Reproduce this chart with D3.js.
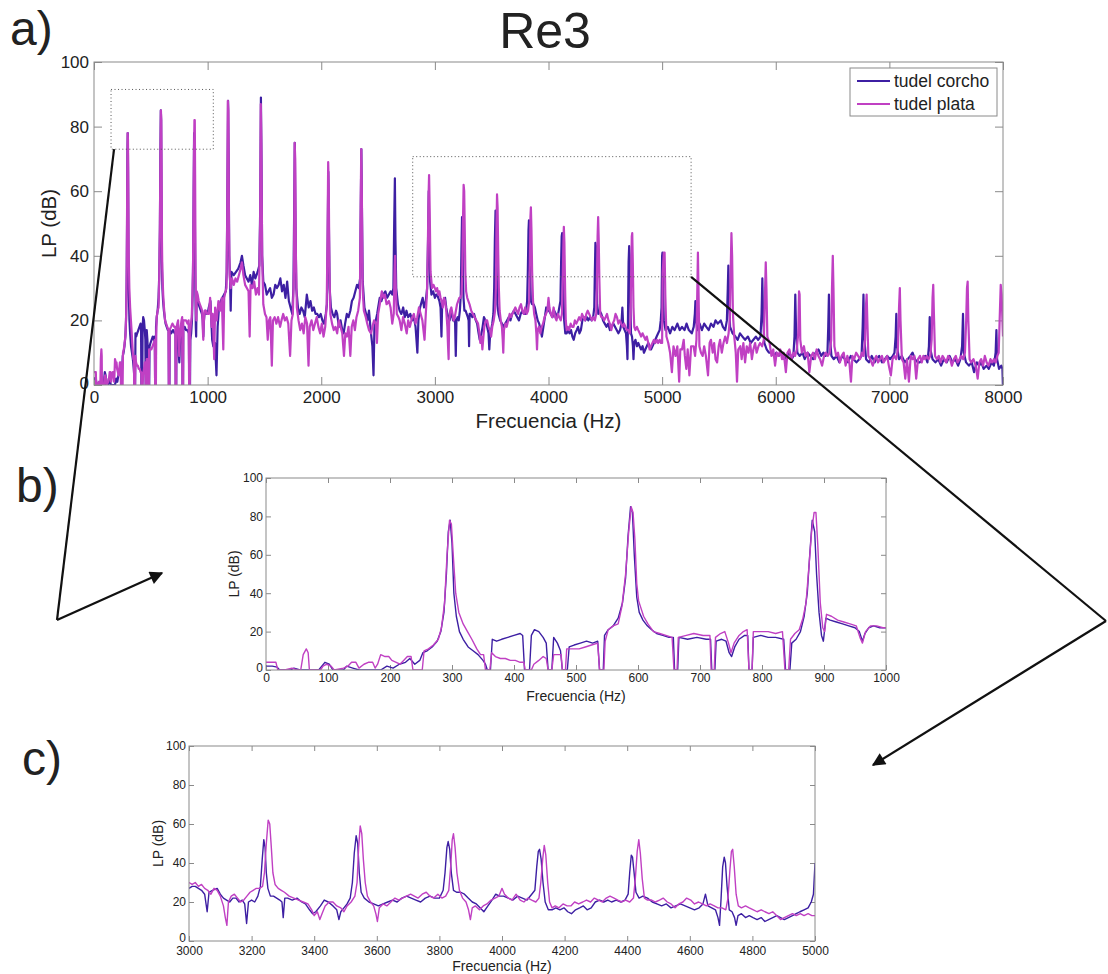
<!DOCTYPE html>
<html>
<head>
<meta charset="utf-8">
<script src="https://cdn.jsdelivr.net/npm/d3@7"></script>
<style>
  body { margin: 0; background: #fff; }
  svg { display: block; }
  text { font-family: "Liberation Sans", Arial, sans-serif; fill: #222; }
  .narrow text { font-family: "Liberation Sans Narrow", "Arial Narrow", "Liberation Sans", Arial, sans-serif; }
</style>
</head>
<body>
<div id="chart"></div>
<script>
// Spectrum values [Hz, dB], by frequency band
var corchoLow = [[0,2],[10,2],[18,1.5],[22,0],[40,0],[45,1],[55,0],[85,0],[95,4],[102,3],[108,0],[125,0],[130,2],[140,1],[150,0],[185,0],[195,2],[205,1],[215,3],[225,4],[232,6],[240,3],[248,5],[253,9],[260,10],[268,12],[276,15],[282,20],[287,30],[291,50],[294,72],[297,78],[300,66],[303,40],[307,28],[312,20],[318,16],[326,12],[334,10],[342,8],[350,5],[354,3],[357,0],[362,0],[365,16],[372,15],[380,16],[390,17],[400,18],[410,19],[414,18],[417,0],[425,0],[428,18],[433,21],[440,20],[447,17],[452,14],[455,0],[461,0],[464,17],[470,14],[475,10],[478,0],[486,0],[489,12],[497,13],[507,14],[517,15],[527,14],[535,15],[538,0],[544,0],[546,18],[552,21],[560,23],[568,27],[575,35],[580,48],[584,70],[588,85],[591,82],[594,60],[598,38],[602,30],[608,26],[615,23],[622,21],[630,19],[640,18],[650,17],[657,17],[659,0],[664,0],[666,17],[680,16],[695,17],[710,16],[717,16],[719,0],[724,0],[726,15],[735,16],[742,15],[747,9],[751,7],[756,12],[763,16],[772,18],[777,18],[779,0],[784,0],[786,17],[798,18],[810,17],[822,17],[835,16],[838,0],[845,0],[848,14],[855,16],[862,20],[868,28],[873,40],[877,60],[881,78],[885,72],[888,50],[892,30],[896,18],[899,15],[903,27],[910,26],[920,25],[930,24],[940,23],[950,22],[957,20],[962,15],[966,19],[972,22],[980,23],[990,22],[1000,22]];
var plataLow = [[0,4],[8,4],[16,4],[19,0],[30,0],[42,1],[50,0],[56,0],[60,8],[65,11],[68,9],[70,0],[88,0],[92,2],[98,3],[105,2],[110,0],[125,1],[132,2],[138,4],[145,4],[150,1],[158,3],[165,4],[172,4],[176,1],[180,3],[185,8],[192,7],[198,7],[203,5],[210,4],[216,3],[222,5],[228,7],[234,7],[237,0],[252,0],[255,10],[262,11],[270,13],[278,16],[283,22],[288,35],[292,60],[296,78],[299,76],[302,60],[306,40],[311,30],[318,24],[325,20],[332,16],[340,11],[346,8],[351,8],[354,0],[361,0],[364,9],[370,7],[378,6],[386,6],[394,5],[402,5],[410,4],[416,4],[418,0],[428,0],[432,3],[440,5],[447,7],[452,6],[455,0],[461,0],[464,8],[470,8],[476,8],[478,0],[483,0],[485,11],[495,11],[505,11],[515,12],[525,13],[535,14],[538,0],[545,0],[547,15],[552,21],[560,23],[568,24],[574,33],[580,50],[585,72],[589,85],[592,82],[595,68],[598,45],[601,36],[604,33],[609,28],[616,24],[625,20],[635,19],[645,18],[655,17],[658,0],[663,0],[665,17],[678,18],[690,19],[705,18],[716,18],[718,0],[723,0],[725,17],[733,19],[740,20],[746,14],[750,9],[755,14],[763,18],[770,20],[776,21],[779,0],[784,0],[786,20],[798,20],[810,20],[822,19],[833,20],[837,0],[843,0],[846,16],[853,19],[860,21],[866,27],[871,35],[876,55],[880,72],[884,82],[887,82],[890,65],[894,35],[898,22],[901,20],[904,29],[912,28],[922,26],[932,25],[942,24],[952,23],[958,17],[962,14],[967,20],[975,23],[985,23],[995,22],[1000,22]];

var corchoMid = [[1010,24],[1025,26],[1040,14],[1050,12],[1065,13],[1078,3],[1088,18],[1100,24],[1115,26],[1130,27],[1145,28],[1160,29],[1168,35],[1174,60],[1180,88],[1185,70],[1190,40],[1197,33],[1203,23],[1210,35],[1230,34],[1250,35],[1270,36],[1290,38],[1302,40],[1315,37],[1330,34],[1345,33],[1360,32],[1375,34],[1390,31],[1405,35],[1420,33],[1440,35],[1455,37],[1463,55],[1469,89],[1474,70],[1480,40],[1490,32],[1505,31],[1520,28],[1535,29],[1550,30],[1565,27],[1580,28],[1595,31],[1610,30],[1625,31],[1640,33],[1655,29],[1670,31],[1685,27],[1700,32],[1715,26],[1730,24],[1745,22],[1755,30],[1762,55],[1767,75],[1772,55],[1780,30],[1795,24],[1810,22],[1825,24],[1840,23],[1855,21],[1873,28],[1890,24],[1905,26],[1920,23],[1935,24],[1950,22],[1965,22],[1980,21],[1995,22],[2010,20],[2025,19],[2040,22],[2050,25],[2057,45],[2062,66],[2067,50],[2074,30],[2085,24],[2100,22],[2115,21],[2130,23],[2140,22],[2155,18],[2170,20],[2185,17],[2197,16],[2210,19],[2225,22],[2240,21],[2256,23],[2270,26],[2285,27],[2300,29],[2315,31],[2330,30],[2342,33],[2348,55],[2353,73],[2358,55],[2365,32],[2380,24],[2395,22],[2407,20],[2420,23],[2435,17],[2450,12],[2460,3],[2468,18],[2480,20],[2492,22],[2501,24],[2515,27],[2530,26],[2545,28],[2564,29],[2580,27],[2595,28],[2611,29],[2625,28],[2635,30],[2642,50],[2648,64],[2653,45],[2660,30],[2675,25],[2690,23],[2705,22],[2721,24],[2735,21],[2750,23],[2765,21],[2784,22],[2800,20],[2815,21],[2830,18],[2846,10],[2855,20],[2870,24],[2885,26],[2893,27],[2905,24],[2920,26],[2932,30],[2940,45],[2946,60],[2951,45],[2958,32],[2970,28],[2985,29],[3000,27]];
var plataMid = [[1010,22],[1022,27],[1035,18],[1045,22],[1058,8],[1066,24],[1080,20],[1095,26],[1110,23],[1125,27],[1138,11],[1146,27],[1158,29],[1166,30],[1172,50],[1178,88],[1183,85],[1188,50],[1194,34],[1203,30],[1215,33],[1230,31],[1245,33],[1260,32],[1275,34],[1290,36],[1302,38],[1315,34],[1330,31],[1345,30],[1360,29],[1370,15],[1378,31],[1395,30],[1410,32],[1425,28],[1440,30],[1452,28],[1462,50],[1468,87],[1473,75],[1480,40],[1490,25],[1505,22],[1518,21],[1529,14],[1540,20],[1552,21],[1565,6],[1575,20],[1590,21],[1605,19],[1620,21],[1638,18],[1650,20],[1665,22],[1680,20],[1695,21],[1710,19],[1726,9],[1738,20],[1750,22],[1760,35],[1766,75],[1771,70],[1777,40],[1785,24],[1800,20],[1815,17],[1830,19],[1845,16],[1860,21],[1875,19],[1888,6],[1898,18],[1915,20],[1930,17],[1945,19],[1960,21],[1975,18],[1990,16],[2005,19],[2020,15],[2035,18],[2048,25],[2055,45],[2061,69],[2066,62],[2072,35],[2080,22],[2095,19],[2110,17],[2125,18],[2140,16],[2155,20],[2170,18],[2185,16],[2200,9],[2212,16],[2226,15],[2240,18],[2256,9],[2268,18],[2282,20],[2296,17],[2310,21],[2325,23],[2340,27],[2347,55],[2352,73],[2357,60],[2364,30],[2375,23],[2392,21],[2405,19],[2420,17],[2439,16],[2450,18],[2465,20],[2480,19],[2490,13],[2501,22],[2515,25],[2533,29],[2548,27],[2560,28],[2575,25],[2596,26],[2610,24],[2625,19],[2638,22],[2645,35],[2650,40],[2656,30],[2665,22],[2680,21],[2690,20],[2705,17],[2720,21],[2735,19],[2752,16],[2765,20],[2780,18],[2800,21],[2815,22],[2830,19],[2845,21],[2860,24],[2875,22],[2890,20],[2909,14],[2920,22],[2930,28],[2937,40],[2944,58],[2949,65],[2954,55],[2962,35],[2975,30],[2988,31],[3000,30]];

var corchoC = [[3010,28],[3020,28],[3030,27],[3040,26],[3050,24],[3058,15],[3064,25],[3075,26],[3090,27],[3100,24],[3110,22],[3120,21],[3130,20],[3140,22],[3150,22],[3160,20],[3170,21],[3178,19],[3184,9],[3190,20],[3200,21],[3210,20],[3220,23],[3228,28],[3234,42],[3239,52],[3243,48],[3247,35],[3252,27],[3260,23],[3270,23],[3280,22],[3290,21],[3297,20],[3301,12],[3306,22],[3315,22],[3330,21],[3345,22],[3360,20],[3372,19],[3385,16],[3395,14],[3405,15],[3420,18],[3432,21],[3445,20],[3460,18],[3472,16],[3479,11],[3485,15],[3495,17],[3505,19],[3515,22],[3522,30],[3528,45],[3534,54],[3539,50],[3544,35],[3550,25],[3560,22],[3575,20],[3590,19],[3605,18],[3620,19],[3635,20],[3650,21],[3665,20],[3680,22],[3695,23],[3710,22],[3725,21],[3740,20],[3755,22],[3770,23],[3785,22],[3800,22],[3812,26],[3818,35],[3824,48],[3828,51],[3833,47],[3838,35],[3845,26],[3855,25],[3868,25],[3880,24],[3892,22],[3905,20],[3918,19],[3930,17],[3942,15],[3955,18],[3968,21],[3980,24],[3992,23],[4005,23],[4020,22],[4035,21],[4050,23],[4065,22],[4080,21],[4095,24],[4105,26],[4111,38],[4116,46],[4120,47],[4125,42],[4131,30],[4138,20],[4148,16],[4160,16],[4172,17],[4185,16],[4198,17],[4210,15],[4222,14],[4235,16],[4248,17],[4260,18],[4272,16],[4285,17],[4298,20],[4312,21],[4325,20],[4338,21],[4350,20],[4365,21],[4380,20],[4393,21],[4403,24],[4408,35],[4413,44],[4417,43],[4422,35],[4428,25],[4438,22],[4450,23],[4465,22],[4480,20],[4495,19],[4510,18],[4525,19],[4540,17],[4555,18],[4570,19],[4585,18],[4600,17],[4615,16],[4630,17],[4642,19],[4650,24],[4658,18],[4670,17],[4682,16],[4690,12],[4695,8],[4700,22],[4705,38],[4710,43],[4714,40],[4719,28],[4726,16],[4735,15],[4743,12],[4748,8],[4754,13],[4765,14],[4778,12],[4790,13],[4802,12],[4815,11],[4828,12],[4840,10],[4852,11],[4865,12],[4878,13],[4890,12],[4902,11],[4915,12],[4928,13],[4940,14],[4952,15],[4965,16],[4978,17],[4988,20],[4995,24],[5000,40]];
var plataC = [[3010,29],[3020,30],[3030,28],[3040,29],[3050,27],[3060,26],[3070,24],[3080,27],[3090,26],[3100,23],[3110,18],[3116,12],[3121,8],[3126,20],[3135,23],[3145,24],[3155,22],[3165,20],[3175,21],[3185,23],[3195,25],[3205,26],[3215,27],[3225,27],[3235,28],[3241,35],[3247,50],[3253,62],[3258,60],[3263,48],[3268,35],[3275,29],[3285,27],[3295,26],[3305,25],[3320,23],[3335,22],[3350,21],[3365,20],[3380,19],[3392,16],[3400,13],[3410,15],[3418,11],[3425,14],[3435,18],[3448,20],[3460,20],[3472,18],[3485,17],[3495,15],[3505,18],[3518,20],[3530,23],[3537,30],[3542,48],[3547,59],[3552,55],[3557,42],[3563,30],[3570,23],[3580,20],[3590,18],[3597,14],[3602,10],[3608,17],[3620,19],[3632,18],[3645,20],[3658,22],[3670,21],[3682,22],[3695,23],[3708,24],[3720,23],[3732,22],[3745,24],[3758,25],[3770,23],[3782,22],[3795,24],[3808,22],[3820,23],[3830,26],[3836,38],[3841,52],[3845,55],[3850,48],[3856,35],[3864,26],[3874,22],[3885,20],[3893,16],[3899,11],[3905,17],[3915,18],[3928,16],[3940,18],[3952,19],[3965,21],[3978,22],[3990,23],[4000,27],[4008,24],[4020,22],[4032,21],[4045,24],[4058,21],[4070,20],[4083,22],[4095,21],[4108,20],[4118,22],[4124,30],[4130,42],[4135,49],[4140,44],[4146,30],[4152,20],[4160,17],[4170,18],[4182,17],[4195,19],[4208,18],[4220,18],[4232,20],[4245,19],[4258,20],[4270,21],[4283,20],[4295,22],[4308,21],[4320,20],[4333,22],[4345,23],[4358,22],[4370,21],[4383,20],[4395,21],[4408,20],[4420,22],[4426,32],[4432,46],[4437,52],[4442,45],[4448,32],[4455,22],[4465,21],[4478,21],[4490,20],[4503,21],[4515,22],[4528,20],[4540,19],[4553,17],[4565,19],[4578,20],[4590,22],[4603,21],[4615,19],[4628,20],[4640,19],[4653,18],[4665,19],[4678,18],[4690,17],[4703,17],[4715,16],[4722,22],[4728,36],[4733,46],[4737,47],[4742,38],[4748,24],[4755,18],[4765,17],[4778,18],[4790,17],[4803,16],[4815,15],[4828,16],[4840,15],[4853,14],[4865,15],[4878,13],[4890,11],[4902,12],[4915,13],[4928,14],[4940,13],[4953,14],[4965,13],[4978,14],[4990,13],[5000,13]];

var corchoHigh = [[5003,41],[5008,30],[5015,20],[5030,17],[5050,18],[5070,16],[5090,18],[5110,17],[5134,19],[5155,17],[5175,18],[5197,17],[5215,19],[5235,17],[5261,16],[5278,18],[5288,22],[5293,26],[5298,20],[5310,17],[5330,19],[5350,17],[5370,19],[5389,18],[5410,17],[5430,19],[5452,18],[5470,20],[5490,19],[5516,20],[5535,18],[5555,17],[5570,20],[5578,30],[5583,37],[5588,28],[5598,18],[5620,16],[5645,15],[5665,14],[5685,16],[5707,15],[5730,14],[5755,15],[5780,13],[5803,14],[5825,15],[5845,14],[5866,15],[5875,22],[5882,33],[5888,22],[5900,13],[5920,11],[5940,10],[5962,10],[5985,9],[6005,10],[6025,9],[6050,10],[6075,8],[6100,9],[6121,10],[6140,8],[6155,9],[6165,15],[6172,28],[6178,18],[6190,10],[6210,9],[6235,10],[6255,8],[6280,10],[6305,9],[6330,8],[6350,10],[6376,11],[6400,9],[6420,10],[6439,9],[6455,10],[6462,18],[6468,28],[6474,16],[6490,9],[6510,8],[6535,9],[6560,7],[6585,9],[6610,8],[6635,7],[6660,9],[6685,8],[6710,7],[6735,8],[6755,9],[6765,18],[6772,28],[6778,15],[6795,8],[6820,7],[6845,9],[6870,7],[6885,8],[6910,9],[6935,7],[6960,8],[6981,9],[7005,8],[7030,9],[7045,10],[7055,15],[7061,22],[7067,12],[7085,8],[7110,9],[7135,7],[7160,8],[7185,9],[7204,10],[7225,8],[7250,7],[7268,7],[7290,8],[7315,9],[7335,7],[7348,12],[7355,21],[7361,11],[7380,8],[7405,7],[7430,8],[7455,6],[7480,8],[7505,7],[7530,9],[7555,7],[7580,8],[7605,6],[7625,8],[7640,12],[7648,22],[7655,10],[7675,7],[7700,6],[7725,7],[7745,4],[7770,7],[7790,6],[7809,7],[7830,5],[7855,6],[7875,5],[7900,7],[7920,6],[7935,10],[7942,17],[7948,8],[7965,5],[7985,6],[7995,5],[7999,0],[8000,0]];
var plataHigh = [[5005,35],[5015,41],[5022,41],[5028,28],[5038,15],[5054,13],[5070,10],[5086,4],[5100,12],[5118,9],[5134,12],[5150,1],[5160,11],[5175,11],[5190,14],[5200,9],[5213,5],[5225,11],[5240,3],[5255,12],[5277,12],[5290,9],[5302,14],[5310,30],[5315,41],[5320,30],[5328,12],[5342,10],[5357,9],[5370,12],[5385,9],[5404,3],[5418,13],[5430,14],[5445,10],[5458,13],[5470,8],[5484,7],[5498,12],[5510,14],[5525,10],[5540,13],[5555,15],[5570,13],[5585,16],[5595,20],[5603,35],[5610,47],[5616,40],[5623,22],[5635,15],[5648,10],[5659,1],[5670,11],[5688,12],[5700,8],[5715,13],[5730,7],[5745,12],[5760,10],[5775,13],[5790,8],[5803,11],[5818,13],[5832,10],[5848,12],[5862,13],[5880,12],[5895,14],[5905,28],[5912,38],[5918,30],[5926,15],[5946,13],[5962,9],[5978,11],[5994,6],[6008,10],[6025,9],[6040,11],[6055,8],[6070,10],[6089,4],[6103,10],[6120,11],[6138,8],[6155,10],[6170,9],[6185,11],[6198,16],[6205,29],[6210,28],[6216,14],[6230,10],[6248,12],[6262,9],[6280,10],[6296,4],[6312,9],[6328,10],[6345,8],[6360,11],[6375,9],[6390,8],[6408,6],[6425,9],[6440,10],[6458,9],[6475,10],[6488,14],[6495,30],[6502,40],[6508,30],[6516,12],[6532,9],[6548,10],[6565,7],[6580,9],[6598,10],[6615,6],[6630,9],[6648,7],[6662,1],[6675,9],[6690,8],[6708,10],[6725,9],[6742,8],[6758,10],[6772,9],[6786,14],[6793,24],[6800,28],[6806,20],[6815,9],[6832,8],[6854,6],[6870,8],[6885,9],[6900,7],[6918,8],[6935,9],[6950,7],[6965,8],[6980,9],[6995,6],[7013,3],[7028,8],[7045,9],[7060,8],[7075,11],[7085,24],[7092,30],[7098,20],[7110,8],[7125,7],[7140,2],[7155,8],[7172,1],[7188,9],[7205,8],[7220,9],[7236,2],[7252,8],[7270,9],[7285,7],[7299,9],[7315,8],[7330,9],[7345,8],[7360,9],[7372,14],[7380,27],[7386,31],[7392,22],[7402,9],[7418,8],[7435,9],[7450,7],[7468,9],[7485,8],[7500,7],[7518,9],[7535,8],[7550,6],[7568,8],[7585,9],[7600,7],[7618,8],[7635,9],[7650,8],[7665,10],[7676,20],[7683,30],[7689,32],[7695,20],[7706,8],[7720,7],[7740,8],[7760,6],[7777,2],[7792,7],[7808,8],[7825,6],[7840,9],[7856,7],[7873,6],[7890,8],[7905,7],[7920,8],[7935,7],[7950,9],[7962,10],[7972,22],[7980,31],[7988,28],[7995,20],[8000,15]];

var seriesNames = ["tudel corcho", "tudel plata"];
var seriesColors = ["#3d1fa3", "#c040c3"];

var ticksA = [0, 1000, 2000, 3000, 4000, 5000, 6000, 7000, 8000];
var ticksB = [0, 100, 200, 300, 400, 500, 600, 700, 800, 900, 1000];
var ticksC = [3000, 3200, 3400, 3600, 3800, 4000, 4200, 4400, 4600, 4800, 5000];
var ticksY = [0, 20, 40, 60, 80, 100];

// zoom boxes on panel a: [x0, x1] Hz, [y0, y1] dB
var boxB = [[150, 1050], [73, 91.5]];
var boxC = [[2805, 5255], [33.5, 70.7]];

var corcho = corchoLow.concat(corchoMid, corchoC, corchoHigh);
var plata = plataLow.concat(plataMid, plataC, plataHigh);

var svg = d3.select("#chart").append("svg")
  .attr("width", 1108)
  .attr("height", 974);

var defs = svg.append("defs");
defs.append("marker")
  .attr("id", "head")
  .attr("viewBox", "0 0 10 10")
  .attr("refX", 9)
  .attr("refY", 5)
  .attr("markerWidth", 7)
  .attr("markerHeight", 6)
  .attr("markerUnits", "strokeWidth")
  .attr("orient", "auto")
  .append("path")
  .attr("d", "M0,0L10,5L0,10z")
  .attr("fill", "#111");

var clipId = 0;
var fmt = d3.format("d");

function drawPanel(p) {
  var x = d3.scaleLinear().domain(p.xDomain).range([p.left, p.right]);
  var y = d3.scaleLinear().domain([0, 100]).range([p.bottom, p.top]);
  var g = svg.append("g").attr("class", p.narrow ? "narrow" : null);

  clipId += 1;
  defs.append("clipPath").attr("id", "clip" + clipId)
    .append("rect")
    .attr("x", p.left).attr("y", p.top)
    .attr("width", p.right - p.left).attr("height", p.bottom - p.top);

  // axes, MATLAB style: ticks inside on all four sides
  var bottom = g.append("g")
    .attr("transform", `translate(0,${p.bottom})`)
    .call(d3.axisBottom(x).tickValues(p.xTicks).tickFormat(fmt)
      .tickSizeInner(-p.tick).tickSizeOuter(0).tickPadding(p.xPad));
  var top = g.append("g")
    .attr("transform", `translate(0,${p.top})`)
    .call(d3.axisTop(x).tickValues(p.xTicks).tickSizeInner(-p.tick).tickSizeOuter(0).tickFormat(""));
  var left = g.append("g")
    .attr("transform", `translate(${p.left},0)`)
    .call(d3.axisLeft(y).tickValues(ticksY).tickFormat(fmt)
      .tickSizeInner(-p.tick).tickSizeOuter(0).tickPadding(p.yPad));
  var right = g.append("g")
    .attr("transform", `translate(${p.right},0)`)
    .call(d3.axisRight(y).tickValues(ticksY).tickSizeInner(-p.tick).tickSizeOuter(0).tickFormat(""));

  [bottom, top, left, right].forEach(function(ax) {
    ax.select(".domain").remove();
    ax.selectAll("line").attr("stroke", "#8a8a8a");
    ax.attr("font-family", null).attr("font-size", null);
    ax.selectAll("text")
      .attr("font-size", p.font + "px")
      .attr("fill", "#262626");
  });

  // y label "0" sits a little above the corner, as in the original
  left.selectAll(".tick text").filter(d => d === 0).attr("dy", p.zeroDy);

  // data lines
  var line = d3.line()
    .x(d => x(d[0]))
    .y(d => y(d[1]));

  var plot = g.append("g").attr("clip-path", `url(#clip${clipId})`);
  [corcho, plata].forEach(function(s, i) {
    var data = s.filter(d => d[0] >= p.xDomain[0] && d[0] <= p.xDomain[1]);
    plot.append("path")
      .datum(data)
      .attr("d", line)
      .attr("fill", "none")
      .attr("stroke", seriesColors[i])
      .attr("stroke-width", p.lineWidth)
      .attr("stroke-linejoin", "round");
  });

  // frame
  g.append("rect")
    .attr("x", p.left).attr("y", p.top)
    .attr("width", p.right - p.left).attr("height", p.bottom - p.top)
    .attr("fill", "none")
    .attr("stroke", "#8a8a8a")
    .attr("stroke-width", 1);

  // axis titles
  g.append("text")
    .attr("x", (p.left + p.right) / 2)
    .attr("y", p.xTitleY)
    .attr("text-anchor", "middle")
    .attr("font-size", p.titleFont + "px")
    .text("Frecuencia (Hz)");

  g.append("text")
    .attr("transform", `translate(${p.yTitleX},${(p.top + p.bottom) / 2}) rotate(-90)`)
    .attr("text-anchor", "middle")
    .attr("font-size", p.titleFont + "px")
    .text("LP (dB)");

  return { x: x, y: y, g: g };
}

// a) full spectrum
var a = drawPanel({
  xDomain: [0, 8000], xTicks: ticksA,
  left: 94, right: 1003, top: 62, bottom: 385,
  tick: 8, xPad: 6, yPad: 5, font: 17, titleFont: 20.5,
  xTitleY: 428, yTitleX: 56, lineWidth: 2.2, zeroDy: "0.2em"
});

// b) 0 - 1000 Hz
drawPanel({
  xDomain: [0, 1000], xTicks: ticksB,
  left: 266, right: 886, top: 478, bottom: 670,
  tick: 5, xPad: 3, yPad: 3, font: 12, titleFont: 14,
  xTitleY: 701, yTitleX: 239, lineWidth: 1.4, narrow: true, zeroDy: "0.1em"
});

// c) 3000 - 5000 Hz
drawPanel({
  xDomain: [3000, 5000], xTicks: ticksC,
  left: 189, right: 815, top: 746, bottom: 941,
  tick: 5, xPad: 5, yPad: 3, font: 12, titleFont: 14,
  xTitleY: 971, yTitleX: 163, lineWidth: 1.4, narrow: true, zeroDy: "0.05em"
});

// legend of panel a
var legend = svg.append("g");
legend.append("rect")
  .attr("x", 850).attr("y", 68)
  .attr("width", 147).attr("height", 48)
  .attr("fill", "#fff")
  .attr("stroke", "#8a8a8a");
seriesNames.forEach(function(name, i) {
  var ly = 81 + i * 23;
  legend.append("line")
    .attr("x1", 857).attr("x2", 890)
    .attr("y1", ly).attr("y2", ly)
    .attr("stroke", seriesColors[i])
    .attr("stroke-width", 2);
  legend.append("text")
    .attr("x", 894).attr("y", ly + 6)
    .attr("font-size", "17.5px")
    .text(name);
});

// dotted zoom boxes
[boxB, boxC].forEach(function(b) {
  svg.append("rect")
    .attr("x", a.x(b[0][0]))
    .attr("y", a.y(b[1][1]))
    .attr("width", a.x(b[0][1]) - a.x(b[0][0]))
    .attr("height", a.y(b[1][0]) - a.y(b[1][1]))
    .attr("fill", "none")
    .attr("stroke", "#555")
    .attr("stroke-width", 1)
    .attr("stroke-dasharray", "1,2.5");
});

// connector lines and arrows
var pb = [a.x(boxB[0][0]) + 3, a.y(boxB[1][0])];
var pc = [a.x(boxC[0][1]), a.y(boxC[1][0])];
svg.append("path")
  .attr("d", `M${pb[0]},${pb[1]}L57,620`)
  .attr("fill", "none").attr("stroke", "#111").attr("stroke-width", 2.2);
svg.append("path")
  .attr("d", "M57,620L162,573")
  .attr("fill", "none").attr("stroke", "#111").attr("stroke-width", 2.2)
  .attr("marker-end", "url(#head)");
svg.append("path")
  .attr("d", `M${pc[0]},${pc[1]}L1106,621`)
  .attr("fill", "none").attr("stroke", "#111").attr("stroke-width", 2.2);
svg.append("path")
  .attr("d", "M1106,621L873,765")
  .attr("fill", "none").attr("stroke", "#111").attr("stroke-width", 2.2)
  .attr("marker-end", "url(#head)");

// titles and panel letters
svg.append("text")
  .attr("x", 545).attr("y", 48)
  .attr("text-anchor", "middle")
  .attr("font-size", "50px")
  .text("Re3");
svg.append("text").attr("x", 10).attr("y", 45).attr("font-size", "48px").text("a)");
svg.append("text").attr("x", 16).attr("y", 502).attr("font-size", "48px").text("b)");
svg.append("text").attr("x", 22).attr("y", 775).attr("font-size", "48px").text("c)");
</script>
</body>
</html>
